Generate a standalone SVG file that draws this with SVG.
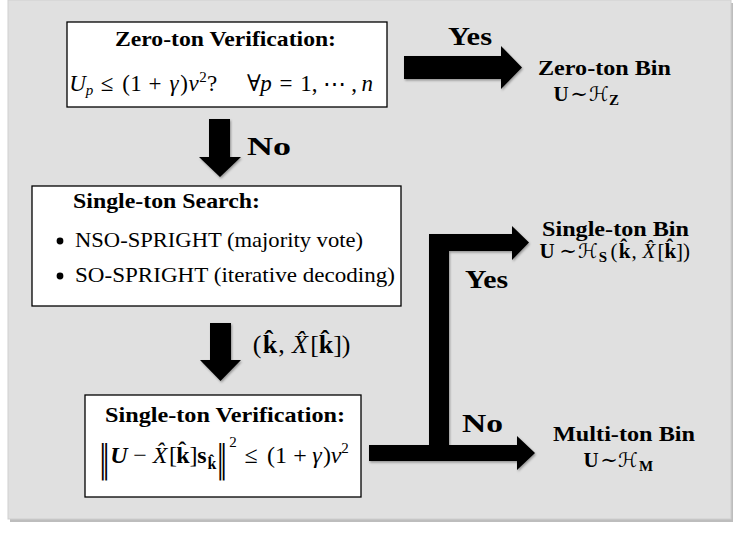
<svg xmlns="http://www.w3.org/2000/svg" width="741" height="542" viewBox="0 0 741 542">
<defs>
<style>
text { font-family: "Liberation Serif","DejaVu Serif",serif; fill:#000; }
.b { font-weight: bold; }
.i { font-style: italic; }
.bi { font-weight: bold; font-style: italic; }
.lbl { font-size: 21px; }
.m { font-size: 23px; }
.big { font-size: 26px; font-weight: bold; }
.cal { font-family: "DejaVu Sans","DejaVu Serif",serif; font-weight: normal; font-size: 20px; }
.nrm { font-family: "DejaVu Sans","DejaVu Serif",sans-serif; font-size: 38px; }
.box { fill:#fff; stroke:#000; stroke-width:1.3; }
.arrow { fill:#000; filter:url(#sh); }
</style>
<filter id="sh" x="-10%" y="-10%" width="130%" height="130%">
<feDropShadow dx="1" dy="1.5" stdDeviation="1.2" flood-color="#000" flood-opacity="0.35"/>
</filter>
</defs>

<g id="panel">
<rect x="10" y="3" width="723" height="519" fill="#bdbdbd"/>
<rect x="8" y="0" width="723" height="519" fill="#e0e0e0" stroke="#cfcfcf" stroke-width="1"/>
</g>

<g id="connectors">
<polygon class="arrow" points="404,56 501,56 501,46 522,67.5 501,89 501,79 404,79"/>
<polygon class="arrow" points="209,119 230,119 230,157 241,157 220,177 199,157 209,157"/>
<polygon class="arrow" points="210,323 231,323 231,360 241,360 220.5,381 200,360 210,360"/>
<path class="arrow" d="M369,445 H429 V234 H512 V226 L529,242.5 L512,260 V251 H449 V445 H517 V436 L535,453 L517,470 V461 H369 Z"/>
<text class="big" x="448" y="45" textLength="44" lengthAdjust="spacingAndGlyphs">Yes</text>
<text class="big" x="247" y="155" textLength="44" lengthAdjust="spacingAndGlyphs">No</text>
<text class="big" x="465" y="288" textLength="43" lengthAdjust="spacingAndGlyphs">Yes</text>
<text class="big" x="462" y="432" textLength="41" lengthAdjust="spacingAndGlyphs">No</text>
<text font-size="26" text-anchor="middle" y="353">
<tspan x="257">(</tspan><tspan x="270" class="b">k&#x302;</tspan><tspan x="281.5">,</tspan><tspan x="300" class="i">X&#x302;</tspan><tspan x="314.5">[</tspan><tspan x="326" class="b">k&#x302;</tspan><tspan x="337.5">]</tspan><tspan x="346">)</tspan>
</text>
</g>

<g id="zero-ton-verification">
<rect class="box" x="67" y="22" width="320" height="85"/>
<text class="lbl b" x="115" y="46" textLength="221" lengthAdjust="spacingAndGlyphs">Zero-ton Verification:</text>
<text class="m" text-anchor="middle" y="91">
<tspan x="77.5" class="i">U</tspan><tspan x="89.5" y="95" font-size="15" class="i">p</tspan><tspan x="107" y="91">≤</tspan><tspan x="126">(</tspan><tspan x="136">1</tspan><tspan x="155">+</tspan><tspan x="174" class="i">γ</tspan><tspan x="184">)</tspan><tspan x="193.6" class="i">ν</tspan><tspan x="203" y="82" font-size="15">2</tspan><tspan x="212" y="91">?</tspan><tspan x="254">∀</tspan><tspan x="266" class="i">p</tspan><tspan x="286">=</tspan><tspan x="306">1</tspan><tspan x="314.6">,</tspan><tspan x="334">⋯</tspan><tspan x="354">,</tspan><tspan x="367.3" class="i">n</tspan>
</text>
</g>

<g id="single-ton-search">
<rect class="box" x="32" y="186" width="369" height="120"/>
<text class="lbl b" x="73" y="208" textLength="187" lengthAdjust="spacingAndGlyphs">Single-ton Search:</text>
<circle cx="60" cy="241" r="3.4" fill="#000"/>
<circle cx="60" cy="276" r="3.4" fill="#000"/>
<text class="lbl" x="75" y="247" textLength="288" lengthAdjust="spacingAndGlyphs">NSO-SPRIGHT (majority vote)</text>
<text class="lbl" x="75" y="282" textLength="320" lengthAdjust="spacingAndGlyphs">SO-SPRIGHT (iterative decoding)</text>
</g>

<g id="single-ton-verification">
<rect class="box" x="85" y="395" width="276" height="102"/>
<text class="lbl b" x="105" y="422" textLength="240" lengthAdjust="spacingAndGlyphs">Single-ton Verification:</text>
<text class="nrm" text-anchor="middle" transform="translate(104.5,471) scale(0.55,1)">‖</text>
<text class="nrm" text-anchor="middle" transform="translate(222,471) scale(0.55,1)">‖</text>
<text font-size="24" text-anchor="middle" y="463">
<tspan x="119" class="bi">U</tspan><tspan x="140">−</tspan><tspan x="160" class="i">X&#x302;</tspan><tspan x="173">[</tspan><tspan x="183" class="b">k&#x302;</tspan><tspan x="193.5">]</tspan><tspan x="202" class="b">s</tspan><tspan x="212" y="469" font-size="16" class="b">k&#x302;</tspan><tspan x="233" y="447" font-size="15">2</tspan><tspan x="251" y="463">≤</tspan><tspan x="271">(</tspan><tspan x="281">1</tspan><tspan x="300">+</tspan><tspan x="317" class="i">γ</tspan><tspan x="327">)</tspan><tspan x="336" class="i">ν</tspan><tspan x="345" y="453" font-size="15">2</tspan>
</text>
</g>

<g id="zero-ton-bin">
<text class="lbl" text-anchor="middle"><tspan class="b" x="604.5" y="75" textLength="133" lengthAdjust="spacingAndGlyphs">Zero-ton Bin</tspan><tspan x="561" y="101" class="b">U</tspan><tspan x="579">∼</tspan><tspan x="599" class="cal">ℋ</tspan><tspan x="614" y="105" font-size="15" class="b">Z</tspan></text>
</g>

<g id="single-ton-bin">
<text class="lbl" text-anchor="middle"><tspan class="b" x="615.5" y="236" textLength="147" lengthAdjust="spacingAndGlyphs">Single-ton Bin</tspan><tspan x="547" y="258" class="b">U</tspan><tspan x="568">∼</tspan><tspan x="588" class="cal">ℋ</tspan><tspan x="603" y="262" font-size="15" class="b">S</tspan><tspan x="614" y="258">(</tspan><tspan x="624.5" class="b">k&#x302;</tspan><tspan x="634">,</tspan><tspan x="649" class="i">X&#x302;</tspan><tspan x="661">[</tspan><tspan x="670.4" class="b">k&#x302;</tspan><tspan x="679.5">]</tspan><tspan x="686.5">)</tspan></text>
</g>

<g id="multi-ton-bin">
<text class="lbl" text-anchor="middle"><tspan class="b" x="624" y="441" textLength="142" lengthAdjust="spacingAndGlyphs">Multi-ton Bin</tspan><tspan x="591" y="467" class="b">U</tspan><tspan x="609">∼</tspan><tspan x="628" class="cal">ℋ</tspan><tspan x="646" y="471" font-size="15" class="b">M</tspan></text>
</g>
</svg>
